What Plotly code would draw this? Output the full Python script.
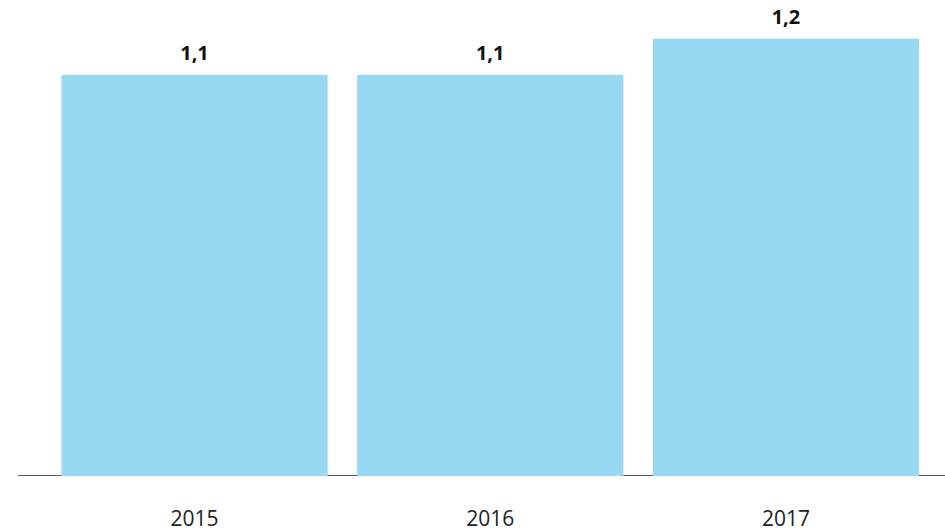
import plotly.graph_objects as go

years = ["2015", "2016", "2017"]
values = [1.1, 1.1, 1.2]
labels = ["1,1", "1,1", "1,2"]

fig = go.Figure()
fig.add_trace(go.Bar(
    x=years, y=values,
    marker=dict(color="#97D9F2", line=dict(width=0)),
    hoverinfo="skip",
))
fig.add_trace(go.Scatter(
    x=years, y=values, mode="markers+text", text=labels,
    textposition="top center",
    marker=dict(size=14, opacity=0),
    textfont=dict(family="Open Sans", size=20, color="#111111", weight="bold"),
    hoverinfo="skip", cliponaxis=False,
))
fig.add_shape(type="line", xref="paper", yref="y", x0=0, x1=1, y0=0, y1=0,
              line=dict(color="#222222", width=1.3), layer="below")

fig.update_layout(
    width=945, height=529,
    margin=dict(l=18, r=0, t=0, b=53, autoexpand=False),
    plot_bgcolor="white", paper_bgcolor="white",
    bargap=0.1,
    showlegend=False,
    xaxis=dict(type="category", range=[-0.597, 2.538], showgrid=False, showline=False,
               zeroline=False, ticks="", ticklabelstandoff=28, automargin=False,
               tickfont=dict(family="Open Sans", size=21, color="#222222")),
    yaxis=dict(range=[0, 1.306], visible=False, automargin=False),
)
fig.write_html("out.html", config={"displayModeBar": False},
               post_script="document.body.style.margin='0';")
